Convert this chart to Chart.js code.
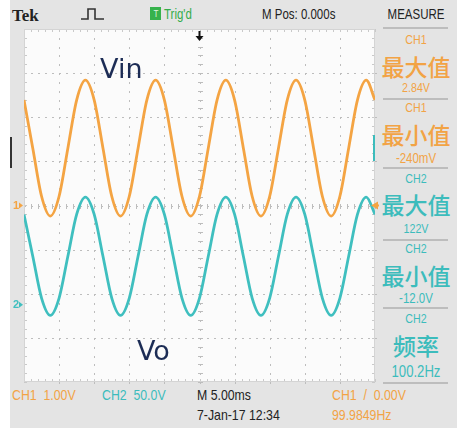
<!DOCTYPE html>
<html>
<head>
<meta charset="utf-8">
<script src="https://cdn.jsdelivr.net/npm/chart.js@4/dist/chart.umd.min.js"></script>
<style>
  html, body { margin: 0; padding: 0; background: #ffffff; }
  #scope { position: relative; width: 467px; height: 428px; overflow: hidden; }
  #bezel { position: absolute; left: 10px; top: 0; width: 447px; height: 428px; background: #e4e4e4; }
  .t { position: absolute; white-space: nowrap; line-height: 1; transform: translate(-50%, -50%) scaleX(0.82);
       font-family: "Liberation Sans", Arial, sans-serif; }
  .l { transform: translate(0, -50%) scaleX(0.82); transform-origin: 0 50%; }
  .org { color: #f2a345; }
  .cyn { color: #3cbcbc; }
  .blk { color: #222; }
  .cjk { font-family: "Noto Sans CJK SC", sans-serif; font-size: 23px; font-weight: 500; transform: translate(-50%, -50%); }
  .sep { position: absolute; left: 383px; width: 65px; height: 2px; background: #bdbdbd; }
  .sig { position: absolute; z-index: 2; font-family: "DejaVu Sans", sans-serif; font-size: 27px; color: #1c2c55;
         transform: translate(0, -50%); line-height: 1; }
  canvas { position: absolute; left: 0; top: 0; z-index: 1; }
</style>
</head>
<body>
<div id="scope">
  <div id="bezel"></div>

  <!-- top status bar -->
  <div class="t l blk" style="left:12px; top:15px; font-family:'Liberation Serif',serif; font-weight:bold; font-size:17px; transform:translate(0,-50%);">Tek</div>
  <svg style="position:absolute; left:80px; top:7px;" width="26" height="14">
    <path d="M1 12 H8 V2 H15 V12 H24" fill="none" stroke="#333" stroke-width="1.6"/>
  </svg>
  <div style="position:absolute; left:150px; top:7px; width:11px; height:13px; background:#36b24c;"></div>
  <div class="t" style="left:155.5px; top:14px; font-size:9px; color:#dff5df; font-family:'DejaVu Sans',sans-serif;">T</div>
  <div class="t l" style="left:164px; top:14px; font-size:14px; color:#33ad4a;">Trig'd</div>
  <div class="t l blk" style="left:262px; top:14px; font-size:14px;">M Pos: 0.000s</div>
  <div class="t blk" style="left:416px; top:14px; font-size:14px;">MEASURE</div>
  <div class="sep" style="top:27px;"></div>

  <!-- measurement panel -->
  <div class="t org" style="left:416px; top:39px; font-size:13px;">CH1</div>
  <div class="t org cjk" style="left:416px; top:66px;">最大值</div>
  <div class="t org" style="left:416px; top:87px; font-size:13px;">2.84V</div>
  <div class="sep" style="top:98px;"></div>

  <div class="t org" style="left:416px; top:107px; font-size:13px;">CH1</div>
  <div class="t org cjk" style="left:416px; top:134px;">最小值</div>
  <div class="t org" style="left:416px; top:158px; font-size:14px;">-240mV</div>
  <div class="sep" style="top:167px;"></div>

  <div class="t cyn" style="left:416px; top:178px; font-size:13px;">CH2</div>
  <div class="t cyn cjk" style="left:416px; top:204px;">最大值</div>
  <div class="t cyn" style="left:416px; top:228px; font-size:13px;">122V</div>
  <div class="sep" style="top:239px;"></div>

  <div class="t cyn" style="left:416px; top:248px; font-size:13px;">CH2</div>
  <div class="t cyn cjk" style="left:416px; top:275px;">最小值</div>
  <div class="t cyn" style="left:416px; top:298px; font-size:14px;">-12.0V</div>
  <div class="sep" style="top:307px;"></div>

  <div class="t cyn" style="left:416px; top:318px; font-size:13px;">CH2</div>
  <div class="t cyn cjk" style="left:416px; top:345px;">频率</div>
  <div class="t cyn" style="left:416px; top:372px; font-size:16px;">100.2Hz</div>
  <div class="sep" style="top:382px;"></div>

  <!-- bottom status bar -->
  <div class="t l org" style="left:12px; top:394px; font-size:15px;">CH1&nbsp;&nbsp;1.00V</div>
  <div class="t l cyn" style="left:102px; top:394px; font-size:15px;">CH2&nbsp;&nbsp;50.0V</div>
  <div class="t l blk" style="left:197px; top:394px; font-size:15px;">M 5.00ms</div>
  <div class="t l blk" style="left:197px; top:414px; font-size:15px;">7-Jan-17 12:34</div>
  <div class="t l org" style="left:332px; top:394px; font-size:15px;">CH1&nbsp;&nbsp;/&nbsp;&nbsp;0.00V</div>
  <div class="t l org" style="left:332px; top:414px; font-size:15px;">99.9849Hz</div>

  <!-- side markers -->
  <div style="position:absolute; left:10px; top:137px; width:2px; height:31px; background:#333;"></div>
  <div style="position:absolute; left:373px; top:135px; width:2px; height:26px; background:#3cbcbc; z-index:2;"></div>

  <!-- trace labels -->
  <div class="sig" style="left:100px; top:68px;">Vin</div>
  <div class="sig" style="left:137px; top:350px;">Vo</div>

  <canvas id="c" width="467" height="428"></canvas>
</div>

<script>
// Time base in milliseconds (5 ms/div, 10 divisions, trigger at 0)
const timeMs = [-25, -23.75, -22.5, -21.25, -20, -18.75, -17.5, -16.25, -15, -13.75,
                -12.5, -11.25, -10, -8.75, -7.5, -6.25, -5, -3.75, -2.5, -1.25,
                0, 1.25, 2.5, 3.75, 5, 6.25, 7.5, 8.75, 10, 11.25,
                12.5, 13.75, 15, 16.25, 17.5, 18.75, 20, 21.25, 22.5, 23.75, 25];

// CH1 (Vin) samples in volts
const vinVolts = [2.39, 1.30, 0.21, -0.24, 0.21, 1.30, 2.39, 2.84,
                  2.39, 1.30, 0.21, -0.24, 0.21, 1.30, 2.39, 2.84,
                  2.39, 1.30, 0.21, -0.24, 0.21, 1.30, 2.39, 2.84,
                  2.39, 1.30, 0.21, -0.24, 0.21, 1.30, 2.39, 2.84,
                  2.39, 1.30, 0.21, -0.24, 0.21, 1.30, 2.39, 2.84,
                  2.39];

// CH2 (Vo) samples in volts
const voVolts = [102.4, 55, 7.6, -12, 7.6, 55, 102.4, 122,
                 102.4, 55, 7.6, -12, 7.6, 55, 102.4, 122,
                 102.4, 55, 7.6, -12, 7.6, 55, 102.4, 122,
                 102.4, 55, 7.6, -12, 7.6, 55, 102.4, 122,
                 102.4, 55, 7.6, -12, 7.6, 55, 102.4, 122,
                 102.4];

// Graticule divisions
const timeDivs = [-25, -20, -15, -10, -5, 0, 5, 10, 15, 20, 25];
const ch1Divs = [-4, -3, -2, -1, 0, 1, 2, 3, 4];

const ORANGE = '#f4a443';
const CYAN = '#3fbfbf';

const graticule = {
  id: 'graticule',
  beforeDatasetsDraw(chart) {
    const { ctx, chartArea: a, scales: { x, y } } = chart;
    ctx.save();
    ctx.fillStyle = '#fbfbfb';
    ctx.fillRect(a.left, a.top, a.right - a.left, a.bottom - a.top);

    const xStep = (x.getPixelForValue(5) - x.getPixelForValue(0)) / 5;
    const yStep = (y.getPixelForValue(0) - y.getPixelForValue(1)) / 5;
    const cx = x.getPixelForValue(0);
    const cy = y.getPixelForValue(0);

    ctx.fillStyle = '#bdbdbd';
    // dotted vertical division lines
    timeDivs.slice(1, -1).forEach(t => {
      const px = Math.round(x.getPixelForValue(t));
      for (let py = a.top; py <= a.bottom; py += yStep) ctx.fillRect(px, Math.round(py), 1, 2);
    });
    // dotted horizontal division lines
    ch1Divs.slice(1, -1).forEach(v => {
      const py = Math.round(y.getPixelForValue(v));
      for (let px = a.left; px <= a.right; px += xStep) ctx.fillRect(Math.round(px), py, 2, 1);
    });
    // minor ticks on the centre cross
    for (let py = a.top; py <= a.bottom; py += yStep) ctx.fillRect(Math.round(cx) - 2, Math.round(py), 5, 1);
    for (let px = a.left; px <= a.right; px += xStep) ctx.fillRect(Math.round(px), Math.round(cy) - 2, 1, 5);

    // border with inward ticks
    ctx.fillStyle = '#c9c9c9';
    for (let px = a.left; px <= a.right; px += xStep) {
      ctx.fillRect(Math.round(px), a.top, 1, 3);
      ctx.fillRect(Math.round(px), a.bottom - 3, 1, 3);
    }
    for (let py = a.top; py <= a.bottom; py += yStep) {
      ctx.fillRect(a.left, Math.round(py), 3, 1);
      ctx.fillRect(a.right - 3, Math.round(py), 3, 1);
    }
    ctx.strokeStyle = '#d4d4d4';
    ctx.lineWidth = 1;
    ctx.strokeRect(a.left + 0.5, a.top + 0.5, a.right - a.left - 1, a.bottom - a.top - 1);
    ctx.restore();
  },
  afterDraw(chart) {
    const { ctx, chartArea: a, scales: { x, y, y2 } } = chart;
    const g1 = y.getPixelForValue(0);
    const g2 = y2.getPixelForValue(0);
    ctx.save();
    ctx.font = 'bold 11px "Liberation Sans", sans-serif';
    ctx.textBaseline = 'middle';
    // channel ground markers
    [[g1, '1', ORANGE], [g2, '2', CYAN]].forEach(([gy, lab, col]) => {
      ctx.fillStyle = col;
      ctx.fillText(lab, 13, gy);
      ctx.beginPath();
      ctx.moveTo(19, gy - 3); ctx.lineTo(23, gy); ctx.lineTo(19, gy + 3); ctx.closePath();
      ctx.fill();
    });
    // trigger level marker (CH1, 0.00V)
    ctx.fillStyle = ORANGE;
    ctx.beginPath();
    ctx.moveTo(a.right - 4, g1); ctx.lineTo(a.right + 3, g1 - 4); ctx.lineTo(a.right + 3, g1 + 4); ctx.closePath();
    ctx.fill();
    ctx.fillRect(a.right - 1, g1 - 1, 5, 2);
    // trigger position marker
    const tx = x.getPixelForValue(0);
    ctx.fillStyle = '#111';
    ctx.fillRect(tx - 1, a.top + 2, 2, 6);
    ctx.beginPath();
    ctx.moveTo(tx - 4, a.top + 7); ctx.lineTo(tx + 4, a.top + 7); ctx.lineTo(tx, a.top + 12); ctx.closePath();
    ctx.fill();
    ctx.restore();
  }
};

new Chart(document.getElementById('c'), {
  type: 'line',
  data: {
    datasets: [
      {
        label: 'Vin',
        data: timeMs.map((t, i) => ({ x: t, y: vinVolts[i] })),
        yAxisID: 'y',
        borderColor: ORANGE,
        borderWidth: 2.8,
        pointRadius: 0,
        cubicInterpolationMode: 'monotone'
      },
      {
        label: 'Vo',
        data: timeMs.map((t, i) => ({ x: t, y: voVolts[i] })),
        yAxisID: 'y2',
        borderColor: CYAN,
        borderWidth: 2.8,
        pointRadius: 0,
        cubicInterpolationMode: 'monotone'
      }
    ]
  },
  options: {
    responsive: false,
    animation: false,
    layout: { padding: { left: 24, top: 29, right: 92, bottom: 46 } },
    plugins: { legend: { display: false }, tooltip: { enabled: false } },
    scales: {
      x: { type: 'linear', min: -25, max: 25, display: false },
      y: { min: -4, max: 4, display: false },          // CH1: 1.00 V/div
      y2: { min: -87.5, max: 312.5, display: false }   // CH2: 50.0 V/div
    }
  },
  plugins: [graticule]
});
</script>
</body>
</html>
